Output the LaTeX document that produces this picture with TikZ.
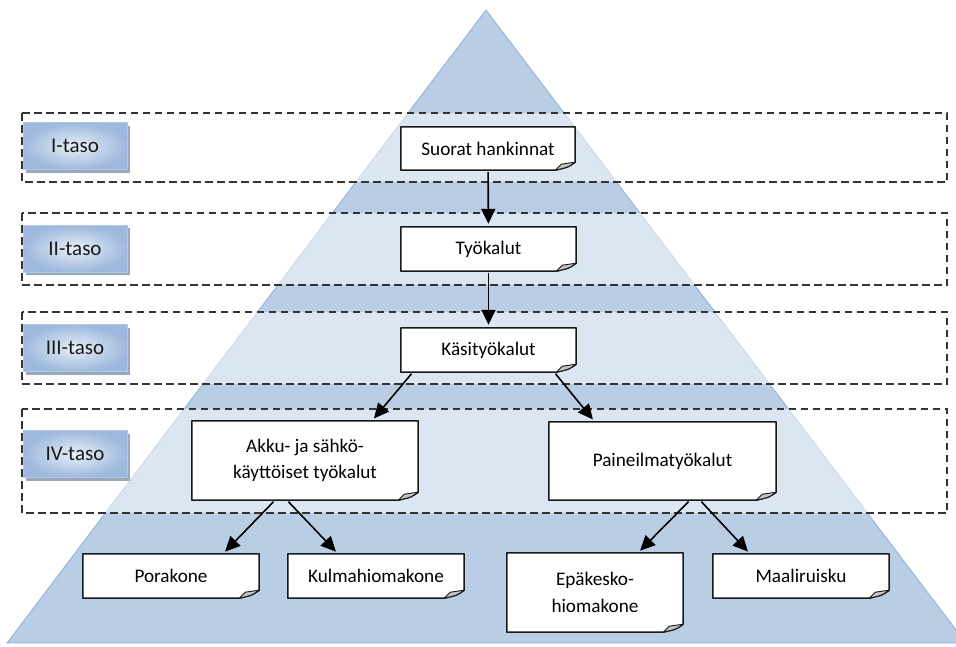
\documentclass[tikz,border=0pt]{standalone}
\usepackage{fontspec}
\setmainfont{Carlito}
\usetikzlibrary{calc,arrows.meta,shadows}
\definecolor{pyr}{HTML}{B9CDE5}
\definecolor{pyredge}{HTML}{8FB0DA}
\definecolor{tagin}{HTML}{E8EFF8}
\definecolor{tagout}{HTML}{9EB9DD}
\definecolor{tagedge}{HTML}{B4C8E4}
\definecolor{tagshadow}{HTML}{9AA8BE}
\definecolor{dashc}{HTML}{333333}
\definecolor{foldc}{HTML}{C4C4C4}
\pgfdeclarelayer{back}
\pgfdeclarelayer{paper}
\pgfsetlayers{back,paper,main}
\begin{document}
\begin{tikzpicture}[x=1pt,y=-1pt,
  tier/.style={draw=dashc, line width=1.8pt, dash pattern=on 7.5pt off 4.5pt,
    fill=white, fill opacity=0.5},
  tag/.style={minimum width=104pt, minimum height=47pt, inner sep=0pt,
    draw=tagedge, line width=0.8pt, inner color=tagin, outer color=tagout,
    drop shadow={shadow xshift=2.5pt, shadow yshift=-3pt, fill=tagshadow, opacity=1},
    font=\fontsize{21}{25}\selectfont, text=black!90},
  note/.style={inner sep=0pt, align=center, font=\fontsize{19.2}{26.5}\selectfont},
  notebody/.style={fill=white, draw=black!90, line width=1.5pt, line join=round},
  notefold/.style={fill=foldc, draw=black!90, line width=0.9pt, line join=round},
  link/.style={line width=1.6pt, -{Triangle[length=15pt,width=14pt]},
    shorten <=2pt, shorten >=3pt}
]
\useasboundingbox (0,0) rectangle (956,646);

\begin{pgfonlayer}{back}
  % pyramid
  \begin{scope}
    \clip (0,0) rectangle (956,646);
    \draw[pyredge, fill=pyr, line width=0.8pt] (486,10) -- (966,643) -- (7,643) -- cycle;
  \end{scope}
  % levels
  \draw[tier] (22,113) rectangle (947,182);
  \draw[tier] (22,213) rectangle (947,285);
  \draw[tier] (22,312) rectangle (947,384);
  \draw[tier] (22,409) rectangle (947,513);
  % level tags
  \node[tag] (t1) at (75,146)   {I-taso};
  \node[tag] (t2) at (75,248.5) {II-taso};
  \node[tag] (t3) at (75,348)   {III-taso};
  \node[tag] (t4) at (75,454)   {IV-taso};
\end{pgfonlayer}

% items
\node[note, minimum width=174pt, minimum height=43pt] (s1) at (488,148.5) {Suorat hankinnat};
\node[note, minimum width=175pt, minimum height=44pt] (s2) at (488.5,249) {Työkalut};
\node[note, minimum width=175pt, minimum height=44pt] (s3) at (488.5,350) {Käsityökalut};
\node[note, minimum width=226pt, minimum height=79pt] (a)  at (305,460.5) {Akku- ja sähkö-\\käyttöiset työkalut};
\node[note, minimum width=227pt, minimum height=78pt] (p)  at (662.5,461) {Paineilmatyökalut};
\node[note, minimum width=176pt, minimum height=44pt] (pk) at (171,576) {Porakone};
\node[note, minimum width=176pt, minimum height=44pt] (km) at (376,576) {Kulmahiomakone};
\node[note, minimum width=176pt, minimum height=79pt] (ep) at (595,592.5) {Epäkesko-\\hiomakone};
\node[note, minimum width=176pt, minimum height=44pt] (mr) at (801,576) {Maaliruisku};

% paper sheets with a folded corner
\begin{pgfonlayer}{paper}
  \foreach \n in {s1,s2,s3,a,p,pk,km,ep,mr}{
    \draw[notebody] (\n.north west) -- (\n.north east) -- ($(\n.south east)+(0,-8)$)
      .. controls ($(\n.south east)+(-7,-3)$) .. ($(\n.south east)+(-20,0)$)
      -- (\n.south west) -- cycle;
    \draw[notefold] ($(\n.south east)+(0,-8)$) -- ($(\n.south east)+(-14,-6)$)
      -- ($(\n.south east)+(-20,0)$)
      .. controls ($(\n.south east)+(-7,-3)$) .. cycle;
  }
\end{pgfonlayer}

% connectors
\draw[link] (s1) -- (s2);
\draw[link] (s2) -- (s3);
\draw[link] ($(s3.south west)+(12,0)$) -- ($(a.north)+(67,0)$);
\draw[link] ($(s3.south east)+(-22,0)$) -- ($(p.north west)+(46,0)$);
\draw[link] ($(a.south)+(-30,0)$) -- ($(pk.north)+(52,0)$);
\draw[link] ($(a.south)+(-18,0)$) -- ($(km.north)+(-38,0)$);
\draw[link] ($(p.south)+(27.5,0)$) -- ($(ep.north)+(43,0)$);
\draw[link] ($(p.south)+(37.5,0)$) -- ($(mr.north)+(-51,0)$);
\end{tikzpicture}
\end{document}
